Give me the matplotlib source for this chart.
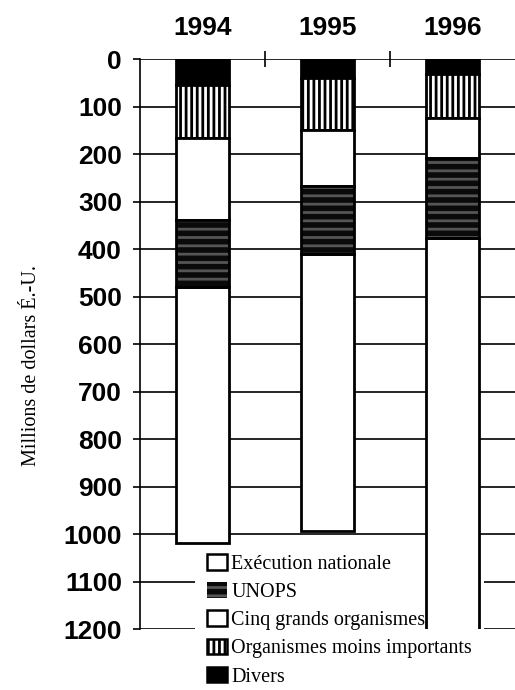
import matplotlib
matplotlib.use("Agg")
from matplotlib import pyplot as plt
import matplotlib.patches as mpatches
import numpy as np

# Années
years = ['1994', '1995', '1996']

# Millions de dollars É.-U., empilés de haut en bas
divers = [54, 40, 30]
org_moins = [111, 109, 94]
cinq_grands = [173, 117, 84]
unops = [141, 144, 169]
execution = [540, 584, 850]

labels = ['Exécution nationale', 'UNOPS', 'Cinq grands organismes',
          'Organismes moins importants', 'Divers']

y_ticks = np.arange(0, 1201, 100)

plt.rcParams['hatch.linewidth'] = 2.0

fig = plt.figure(figsize=(5.15, 6.9), dpi=100)
ax = fig.add_axes([140 / 515, 60.7 / 690, 375 / 515, 570 / 690])

x = np.arange(len(years))
width = 0.42
lw = 2.0

bottom = np.zeros(len(years))
b_div = ax.bar(x, divers, width, bottom=bottom, color='black',
               edgecolor='black', linewidth=lw, zorder=3)
bottom += divers
b_org = ax.bar(x, org_moins, width, bottom=bottom, color='white',
               edgecolor='black', linewidth=lw, hatch='|||', zorder=3)
bottom += org_moins
b_cinq = ax.bar(x, cinq_grands, width, bottom=bottom, color='white',
                edgecolor='black', linewidth=lw, zorder=3)
bottom += cinq_grands
# UNOPS : fond noir avec de fines lignes claires
b_un = ax.bar(x, unops, width, bottom=bottom, color='#0a0a0a',
              edgecolor='#555555', linewidth=0, hatch='--', zorder=3)
ax.bar(x, unops, width, bottom=bottom, fill=False,
       edgecolor='black', linewidth=lw, zorder=3.1)
bottom += unops
b_exe = ax.bar(x, execution, width, bottom=bottom, color='white',
               edgecolor='black', linewidth=lw, zorder=3)

ax.set_xlim(-0.5, 2.5)
ax.set_ylim(1200, 0)

# axe des années en haut
ax.xaxis.tick_top()
ax.set_xticks(x)
ax.set_xticklabels(years, fontsize=19, fontweight='bold',
                   family='Liberation Sans')
ax.set_xticks([0.5, 1.5], minor=True)
ax.tick_params(axis='x', which='major', length=0, pad=14)
ax.tick_params(axis='x', which='minor', direction='inout', length=11,
               width=1.2, color='black')

ax.set_yticks(y_ticks)
ax.set_yticklabels([str(v) for v in y_ticks], fontsize=19,
                   fontweight='bold', family='Liberation Sans')
ax.tick_params(axis='y', length=5, width=1.2, pad=8)

ax.yaxis.grid(True, color='black', linewidth=1.2)
ax.set_axisbelow(True)
for side in ['top', 'right', 'bottom']:
    ax.spines[side].set_visible(False)
ax.spines['left'].set_linewidth(1.2)

ax.set_ylabel('Millions de dollars É.-U.', family='Liberation Serif',
              fontsize=14.5)
ax.yaxis.set_label_coords(-0.265, 0.462)

h_exe = mpatches.Patch(facecolor='white', edgecolor='black', linewidth=1.8)
h_un = mpatches.Patch(facecolor='#0a0a0a', edgecolor='#555555',
                      linewidth=0, hatch='--')
h_cinq = mpatches.Patch(facecolor='white', edgecolor='black', linewidth=1.8)
h_org = mpatches.Patch(facecolor='white', edgecolor='black', linewidth=1.8,
                       hatch='|||')
h_div = mpatches.Patch(facecolor='black', edgecolor='black', linewidth=1.8)

leg = ax.legend([h_exe, h_un, h_cinq, h_org, h_div], labels,
                loc='upper left', bbox_to_anchor=(0.147, 0.153),
                borderaxespad=0,
                prop={'family': 'Liberation Serif', 'size': 14.5},
                handlelength=1.0, handleheight=0.8, handletextpad=0.2,
                labelspacing=0.42, borderpad=0.6, frameon=True,
                facecolor='white', edgecolor='none', framealpha=1,
                fancybox=False)
leg.set_zorder(2.5)

plt.savefig('out.png', dpi=100)
